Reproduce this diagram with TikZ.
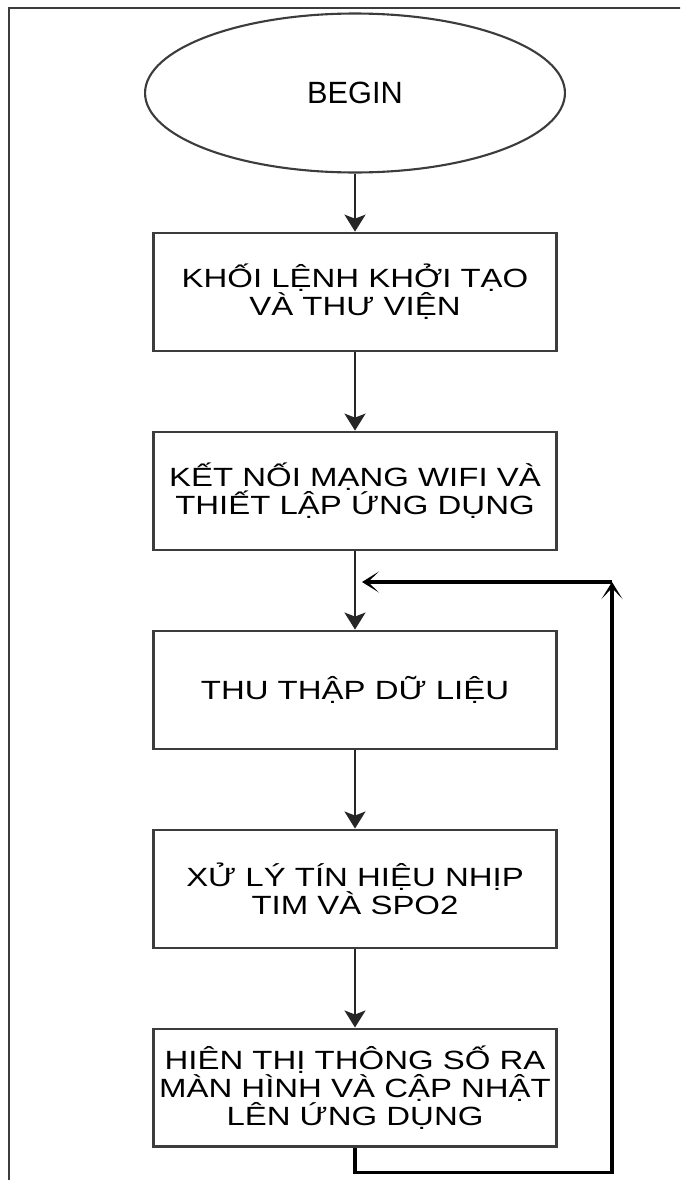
\documentclass[tikz,border=0pt]{standalone}
\usepackage{fontspec}
\usepackage{tikz}
\usetikzlibrary{shapes.geometric, arrows.meta}
\newfontfamily\boxfont[FakeStretch=1.25]{Liberation Sans}
\newfontfamily\beginfont{Liberation Sans}
\definecolor{edgegray}{HTML}{3C3C3C}
\tikzstyle{startstop} = [ellipse, minimum width = 8.4cm, minimum height = 3.18cm, inner sep = 0pt, draw = edgegray, line width = 1.2pt, font = \beginfont\fontsize{17.5}{20}\selectfont]
\tikzstyle{process} = [rectangle, minimum width = 8.06cm, minimum height = 2.36cm, inner sep = 0pt, align = center, draw = edgegray, line width = 1.5pt, font = \boxfont\fontsize{15}{16}\selectfont]
\tikzstyle{arrow} = [line width = 1.3pt, draw = black!85, -{Stealth[length = 0.34cm, width = 0.42cm, inset = 0.08cm]}]
\tikzstyle{back} = [line width = 1.8pt, draw = black, -{Stealth[length = 0.34cm, width = 0.42cm, inset = 0.22cm]}]

\begin{document}
\begin{tikzpicture}[x = 0.02cm, y = -0.02cm, node distance = 3.98cm]
	\clip (0,0) rectangle (680,1180);
	\draw [edgegray, line width = 1.3pt] (9,1200) -- (9,8) -- (700,8);

	\node (start)[startstop] at (355,93) {BEGIN};
	\node (init)[process, below of = start]{KHỐI LỆNH KHỞI TẠO\\VÀ THƯ VIỆN};
	\node (wifi)[process, below of = init]{KẾT NỐI MẠNG WIFI VÀ\\THIẾT LẬP ỨNG DỤNG};
	\node (collect)[process, below of = wifi]{THU THẬP DỮ LIỆU};
	\node (signal)[process, below of = collect]{XỬ LÝ TÍN HIỆU NHỊP\\TIM VÀ SPO2};
	\node (show)[process, below of = signal]{HIÊN THỊ THÔNG SỐ RA\\MÀN HÌNH VÀ CẬP NHẬT\\LÊN ỨNG DỤNG};

	\coordinate (corner) at (612,582);
	\coordinate (join) at (362,582);

	\draw [arrow] (start) -- (init);
	\draw [arrow] (init) -- (wifi);
	\draw [arrow] (wifi) -- (collect);
	\draw [arrow] (collect) -- (signal);
	\draw [arrow] (signal) -- (show);

	\draw [back] (show.south) -- ++(0,24) -| (corner);
	\draw [back] (corner) -- (join);
\end{tikzpicture}
\end{document}
